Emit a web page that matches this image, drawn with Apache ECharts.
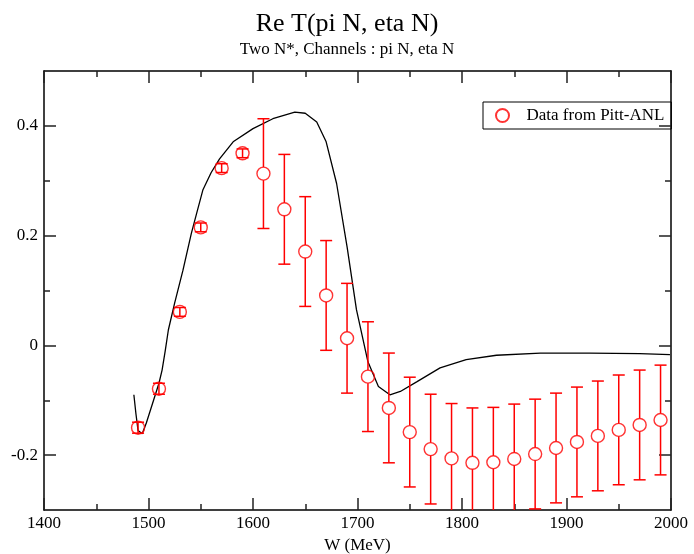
<!DOCTYPE html>
<html>
<head>
<meta charset="utf-8">
<script src="https://cdn.jsdelivr.net/npm/echarts@6/dist/echarts.min.js"></script>
<style>
  html, body { margin: 0; padding: 0; background: #fff; }
  #chart { width: 694px; height: 554px; }
</style>
</head>
<body>
<div id="chart"></div>
<script>
// data points (Pitt-ANL)
const dataW = [1490, 1510, 1530, 1550, 1570, 1590, 1610, 1630, 1650, 1670, 1690, 1710, 1730, 1750, 1770, 1790, 1810, 1830, 1850, 1870, 1890, 1910, 1930, 1950, 1970, 1990]
const dataRe = [-0.150, -0.079, 0.061, 0.215, 0.323, 0.350, 0.313, 0.248, 0.171, 0.091, 0.013, -0.057, -0.114, -0.158, -0.189, -0.206, -0.214, -0.213, -0.207, -0.198, -0.187, -0.176, -0.165, -0.154, -0.145, -0.136]
const dataErr = [0.010, 0.010, 0.008, 0.008, 0.008, 0.008, 0.100, 0.100, 0.100, 0.100, 0.100, 0.100, 0.100, 0.100, 0.100, 0.100, 0.100, 0.100, 0.100, 0.100, 0.100, 0.100, 0.100, 0.100, 0.100, 0.100]

// model curve
const curveW = [1486, 1488, 1490, 1494, 1498, 1505, 1510, 1513, 1516, 1519, 1525, 1533, 1541, 1546, 1552, 1560, 1568, 1581, 1600, 1619, 1640, 1650, 1661, 1670, 1680, 1690, 1699, 1710, 1720, 1731, 1741, 1757, 1779, 1804, 1833, 1875, 1922, 1970, 1999]
const curveRe = [-0.090, -0.125, -0.155, -0.161, -0.141, -0.099, -0.069, -0.045, -0.010, 0.028, 0.077, 0.137, 0.204, 0.240, 0.283, 0.315, 0.340, 0.371, 0.395, 0.413, 0.425, 0.423, 0.407, 0.371, 0.295, 0.180, 0.065, -0.030, -0.075, -0.090, -0.084, -0.066, -0.041, -0.026, -0.018, -0.014, -0.014, -0.015, -0.017]

// ticks
const yMajorTicks = [-0.2, 0, 0.2, 0.4]
const yMinorTicks = [-0.1, 0.1, 0.3]

const font = 'Liberation Serif, Times New Roman, serif'
const RED = '#ff0000'
const R = 6.5

const chart = echarts.init(document.getElementById('chart'))

const errData = dataW.map((w, i) => [w, dataRe[i], dataRe[i] - dataErr[i], dataRe[i] + dataErr[i]])

const tickStyle = { color: '#222', width: 1.5 }
const lineStyle = { color: '#000', width: 1.5 }

const yBase = { type: 'value', min: -0.3, max: 0.5, splitLine: { show: false } }

chart.setOption({
  animation: false,
  title: {
    text: 'Re T(pi N, eta N)',
    subtext: 'Two N*, Channels : pi N, eta N',
    left: 'center',
    top: 6,
    itemGap: 4,
    textStyle: { fontFamily: font, fontSize: 26, fontWeight: 'normal', color: '#000' },
    subtextStyle: { fontFamily: font, fontSize: 17, color: '#000' }
  },
  legend: {
    left: 483,
    top: 102,
    orient: 'vertical',
    borderColor: '#000',
    borderWidth: 1,
    borderRadius: 0,
    padding: [5, 7, 5, 12],
    itemWidth: 38,
    itemHeight: 13,
    data: [{ name: 'Data from Pitt-ANL', icon: 'circle' }],
    textStyle: { fontFamily: font, fontSize: 17, color: '#000' }
  },
  grid: { left: 44, right: 23, top: 71, bottom: 44, containLabel: false, outerBoundsMode: 'none' },
  xAxis: [
    {
      type: 'value', min: 1400, max: 2000, interval: 100,
      name: 'W (MeV)', nameLocation: 'middle', nameGap: 20,
      nameTextStyle: { fontFamily: font, fontSize: 17, color: '#000' },
      axisLine: { onZero: false, lineStyle },
      axisTick: { inside: true, length: 12, lineStyle: tickStyle },
      minorTick: { show: true, splitNumber: 2, length: 6, lineStyle: tickStyle },
      axisLabel: { margin: 5, fontFamily: font, fontSize: 17, color: '#000', formatter: v => String(v) },
      splitLine: { show: false }
    },
    {
      type: 'value', min: 1400, max: 2000, interval: 100, position: 'top',
      axisLine: { onZero: false, lineStyle },
      axisTick: { inside: true, length: 12, lineStyle: tickStyle },
      minorTick: { show: true, splitNumber: 2, length: 6, lineStyle: tickStyle },
      axisLabel: { show: false },
      splitLine: { show: false }
    }
  ],
  yAxis: [
    Object.assign({}, yBase, {
      position: 'left',
      axisLine: { show: true, onZero: false, lineStyle },
      axisTick: { inside: true, length: 12, lineStyle: tickStyle, customValues: yMajorTicks },
      axisLabel: { margin: 6, fontFamily: font, fontSize: 17, color: '#000', customValues: yMajorTicks }
    }),
    Object.assign({}, yBase, {
      position: 'left',
      axisLine: { show: false, onZero: false },
      axisTick: { inside: true, length: 6, lineStyle: tickStyle, customValues: yMinorTicks },
      axisLabel: { show: false }
    }),
    Object.assign({}, yBase, {
      position: 'right',
      axisLine: { show: true, onZero: false, lineStyle },
      axisTick: { inside: true, length: 12, lineStyle: tickStyle, customValues: yMajorTicks },
      axisLabel: { show: false }
    }),
    Object.assign({}, yBase, {
      position: 'right',
      axisLine: { show: false, onZero: false },
      axisTick: { inside: true, length: 6, lineStyle: tickStyle, customValues: yMinorTicks },
      axisLabel: { show: false }
    })
  ],
  series: [
    {
      name: 'model',
      type: 'line',
      data: curveW.map((w, i) => [w, curveRe[i]]),
      showSymbol: false,
      symbol: 'none',
      lineStyle: { color: '#000', width: 1.3 },
      clip: true,
      z: 3
    },
    {
      name: 'errors',
      type: 'custom',
      data: errData,
      clip: true,
      z: 4,
      renderItem: (params, api) => {
        const x = api.value(0)
        const c = api.coord([x, api.value(1)])
        const lo = api.coord([x, api.value(2)])
        const hi = api.coord([x, api.value(3)])
        const style = { stroke: RED, lineWidth: 1.5, fill: null }
        const w = 6
        const children = [
          { type: 'line', shape: { x1: lo[0] - w, y1: lo[1], x2: lo[0] + w, y2: lo[1] }, style },
          { type: 'line', shape: { x1: hi[0] - w, y1: hi[1], x2: hi[0] + w, y2: hi[1] }, style }
        ]
        if (lo[1] - c[1] > R) {
          children.push({ type: 'line', shape: { x1: hi[0], y1: hi[1], x2: c[0], y2: c[1] - R }, style })
          children.push({ type: 'line', shape: { x1: c[0], y1: c[1] + R, x2: lo[0], y2: lo[1] }, style })
        } else {
          children.push({ type: 'line', shape: { x1: hi[0], y1: hi[1], x2: lo[0], y2: lo[1] }, style })
        }
        return { type: 'group', children }
      }
    },
    {
      name: 'Data from Pitt-ANL',
      type: 'scatter',
      data: dataW.map((w, i) => [w, dataRe[i]]),
      symbol: 'circle',
      symbolSize: R * 2,
      itemStyle: { color: 'rgba(0,0,0,0)', borderColor: RED, borderWidth: 1.4 },
      z: 5
    }
  ]
})
</script>
</body>
</html>
